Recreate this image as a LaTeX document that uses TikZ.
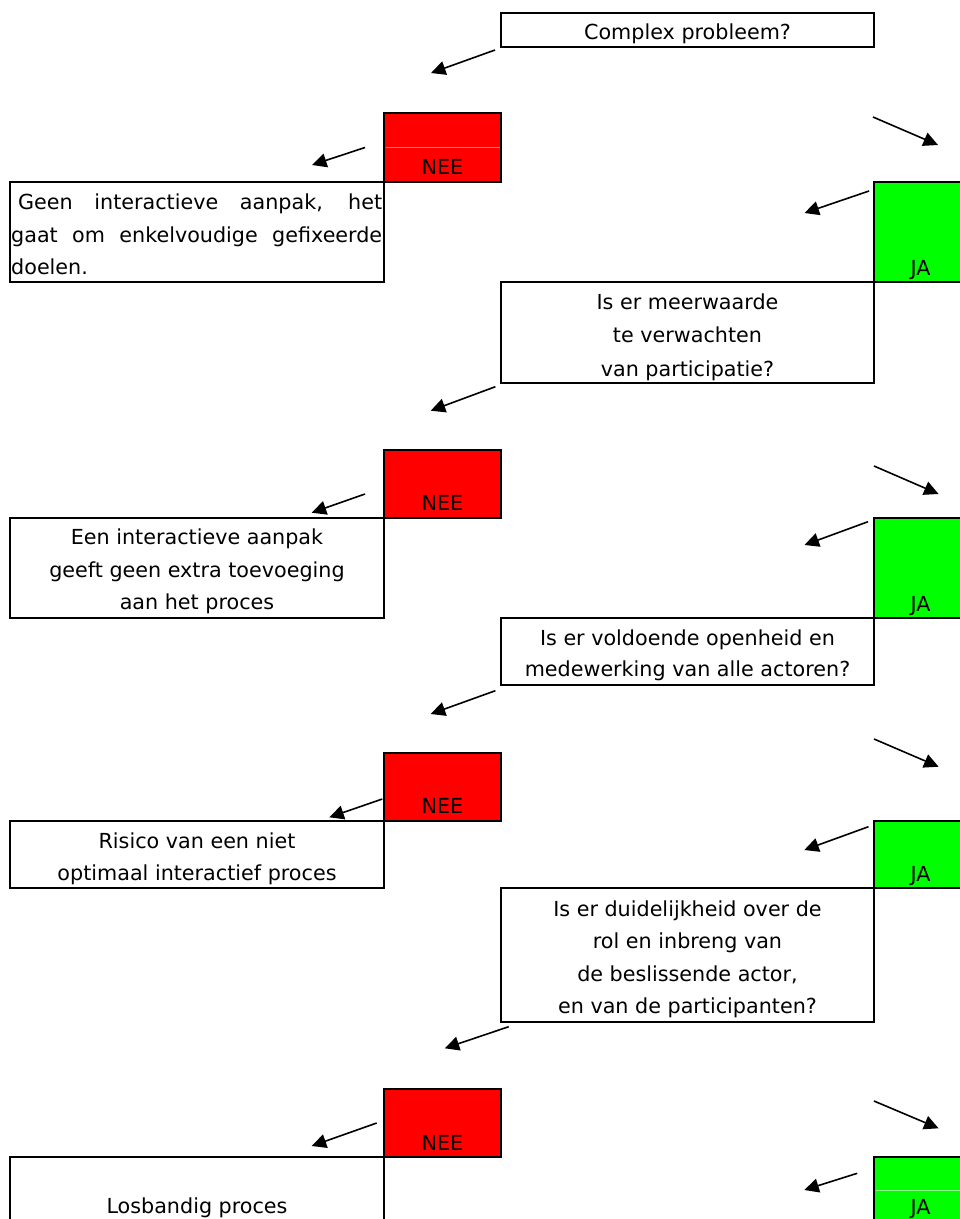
\documentclass[tikz,border=0pt]{standalone}
\usepackage{fontspec}
\setmainfont{DejaVu Sans}
\usetikzlibrary{arrows.meta}

\begin{document}
\begin{tikzpicture}[x=1pt,y=-1pt,
  frame/.style={draw=black, line width=2pt, inner sep=0pt, outer sep=0pt, anchor=north west},
  qbox/.style={frame, minimum width=373pt},
  tbox/.style={frame, minimum width=374pt},
  neebox/.style={frame, fill=red, minimum width=117pt},
  jabox/.style={frame, fill=green, minimum width=93pt},
  txt/.style={inner sep=0pt, anchor=base, font=\fontsize{20.7}{32.8}\selectfont},
  lbl/.style={inner sep=0pt, anchor=base, font=\fontsize{20.7}{24}\selectfont},
  arr/.style={-{Triangle[length=14.5pt,width=14pt]}, line width=1.6pt},
  seam/.style={line width=0.6pt}
]
\path[use as bounding box, clip] (0,0) rectangle (960,1219);

% --- coloured answer boxes
\node[neebox, minimum height=69pt]  (nee1) at (384,113)  {};
\node[jabox,  minimum height=100pt] (ja1)  at (874,182)  {};
\node[neebox, minimum height=68pt]  (nee2) at (384,450)  {};
\node[jabox,  minimum height=100pt] (ja2)  at (874,518)  {};
\node[neebox, minimum height=68pt]  (nee3) at (384,753)  {};
\node[jabox,  minimum height=67pt]  (ja3)  at (874,821)  {};
\node[neebox, minimum height=68pt]  (nee4) at (384,1089) {};
\node[jabox,  minimum height=140pt] (ja4)  at (874,1157) {};

% thin seams inside two of the cells
\draw[seam, red!55!white]   ([xshift=1.5pt,yshift=0.5pt]nee1.west) -- ([xshift=-1.5pt,yshift=0.5pt]nee1.east);
\draw[seam, green!45!white] ([xshift=1.5pt,yshift=-33pt]ja4.north west) -- ([xshift=-1.5pt,yshift=-33pt]ja4.north east);

% --- question boxes
\node[qbox, minimum height=34.5pt] (q1) at (501,12.5) {};
\node[qbox, minimum height=100.5pt] (q2) at (501,282) {};
\node[qbox, minimum height=67pt]   (q3) at (501,618) {};
\node[qbox, minimum height=134pt]  (q4) at (501,888) {};

% --- outcome boxes
\node[tbox, minimum height=100pt] (b1) at (10,182)  {};
\node[tbox, minimum height=100pt] (b2) at (10,518)  {};
\node[tbox, minimum height=67pt]  (b3) at (10,821)  {};
\node[tbox, minimum height=140pt] (b4) at (10,1157) {};

% --- labels in the answer boxes
\node[lbl] (ln1) at ([yshift=7.5pt]nee1.south) {NEE};
\node[lbl] (ln2) at ([yshift=7.5pt]nee2.south) {NEE};
\node[lbl] (ln3) at ([yshift=7.5pt]nee3.south) {NEE};
\node[lbl] (ln4) at ([yshift=6.5pt]nee4.south) {NEE};
\node[lbl] (lj1) at ([yshift=7pt]ja1.south) {JA};
\node[lbl] (lj2) at ([yshift=7pt]ja2.south) {JA};
\node[lbl] (lj3) at ([yshift=7pt]ja3.south) {JA};
\node[lbl] (lj4) at ([yshift=-57pt]ja4.north) {JA};

% --- question texts
\node[txt] (tq1) at (687.5,39.3) {Complex probleem?};
\node[txt, font=\fontsize{20.7}{33.5}\selectfont] (tq2) at (687.5,309)
  {\parbox[t]{360pt}{\centering Is er meerwaarde\\te verwachten\\van participatie?}};
\node[txt, font=\fontsize{20.7}{31.7}\selectfont] (tq3) at (687.5,645)
  {\parbox[t]{360pt}{\centering Is er voldoende openheid en\\medewerking van alle actoren?}};
\node[txt, font=\fontsize{20.7}{32.2}\selectfont] (tq4) at (687.5,916.7)
  {\parbox[t]{360pt}{\centering Is er duidelijkheid over de\\rol en inbreng van\\de beslissende actor,\\en van de participanten?}};

% --- outcome texts
\node[txt, anchor=base west] (tb1) at (11,209.3)
  {\parbox[t]{371pt}{\hspace*{7pt}\makebox[364pt][s]{Geen interactieve aanpak, het}\\\makebox[371pt][s]{gaat om enkelvoudige gefixeerde}\\doelen.}};
\node[txt] (tb2) at (197,544.3)
  {\parbox[t]{360pt}{\centering Een interactieve aanpak\\geeft geen extra toevoeging\\aan het proces}};
\node[txt, font=\fontsize{20.7}{31.7}\selectfont] (tb3) at (197,848.3)
  {\parbox[t]{360pt}{\centering Risico van een niet\\optimaal interactief proces}};
\node[txt] (tb4) at (197,1213.5) {Losbandig proces};

% --- connectors
\draw[arr] ([shift={(-6,3)}]q1.south west)    -- ([shift={(-70,-40)}]nee1.north east);
\draw[arr] ([shift={(-1,70)}]q1.south east)   -- ([shift={(64,-37)}]ja1.north west);
\draw[arr] ([shift={(-19,0)}]nee1.west)       -- ([shift={(-72,-17)}]b1.north east);
\draw[arr] ([shift={(-5,9)}]ja1.north west)   -- ([shift={(-69.5,-69)}]q2.north east);

\draw[arr] ([shift={(-5.6,4.2)}]q2.south west) -- ([shift={(-70.3,-39.3)}]nee2.north east);
\draw[arr] ([shift={(0,83.5)}]q2.south east)   -- ([shift={(64.6,-24)}]ja2.north west);
\draw[arr] ([shift={(-19,10)}]nee2.west)       -- ([shift={(-72.3,-5.3)}]b2.north east);
\draw[arr] ([shift={(-6,3.7)}]ja2.north west)  -- ([shift={(-69.5,-73)}]q3.north east);

\draw[arr] ([shift={(-5.6,5.7)}]q3.south west) -- ([shift={(-70.3,-39)}]nee3.north east);
\draw[arr] ([shift={(0,54)}]q3.south east)     -- ([shift={(64.6,-54.3)}]ja3.north west);
\draw[arr] ([shift={(-1.7,12)}]nee3.west)      -- ([shift={(-54.7,-3.7)}]b3.north east);
\draw[arr] ([shift={(-5.5,5.7)}]ja3.north west) -- ([shift={(-69.7,-38)}]q4.north east);

\draw[arr] ([shift={(7.7,4.7)}]q4.south west)  -- ([shift={(-56.3,-40.7)}]nee4.north east);
\draw[arr] ([shift={(0,79)}]q4.south east)     -- ([shift={(64.6,-28.7)}]ja4.north west);
\draw[arr] ([shift={(-7.3,0)}]nee4.west)       -- ([shift={(-72.3,-11)}]b4.north east);
\draw[arr] ([shift={(-16.8,16.3)}]ja4.north west) -- ([shift={(-69.7,33)}]ja4.north west);
\end{tikzpicture}
\end{document}
